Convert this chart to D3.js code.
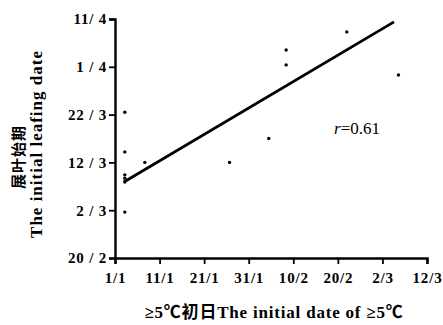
<!DOCTYPE html>
<html>
<head>
<meta charset="utf-8">
<script src="https://cdn.jsdelivr.net/npm/d3@7"></script>
<style>
  body { margin: 0; background: #fff; }
  text { fill: #000; }
</style>
</head>
<body>
<div id="chart"></div>
<script>
// day-of-year values (non leap year)
const xTickDays = [1, 11, 21, 31, 41, 51, 61, 71];
const xTickLabels = ["1/1", "11/1", "21/1", "31/1", "10/2", "20/2", "2/3", "12/3"];
const yTickDays = [51, 61, 71, 81, 91, 101];
const yTickLabels = ["20 / 2", "2 / 3", "12 / 3", "22 / 3", "1 / 4", "11/ 4"];

// >=5C initial date vs initial leafing date
const startDay = [53.0, 39.4, 39.4, 64.6, 35.5, 26.7, 3.2, 3.2, 7.7, 3.2, 3.2, 3.2, 3.2];
const leafDay  = [98.3, 94.5, 91.4, 89.3, 76.0, 71.0, 81.5, 73.2, 71.0, 68.4, 67.7, 66.9, 60.6];

// fitted line ends
const fitX = [3.0, 63.6];
const fitY = [66.9, 100.4];

const W = 443, H = 325;
const svg = d3.select("#chart").append("svg")
    .attr("width", W)
    .attr("height", H);

const x = d3.scaleLinear().domain([1, 71]).range([115, 427]);
const y = d3.scaleLinear().domain([51, 101]).range([258, 19]);

const tickFont = "'Liberation Serif', 'Times New Roman', serif";

// X axis
const xAxis = svg.append("g")
    .attr("transform", `translate(0, ${y(51)})`)
    .call(d3.axisBottom(x)
      .tickValues(xTickDays)
      .tickFormat((d, i) => xTickLabels[i])
      .tickSizeOuter(0)
      .tickSize(6)
      .tickPadding(8));

// Y axis
const yAxis = svg.append("g")
    .attr("transform", `translate(${x(1)}, 0)`)
    .call(d3.axisLeft(y)
      .tickValues(yTickDays)
      .tickFormat((d, i) => yTickLabels[i])
      .tickSizeOuter(0)
      .tickSize(6)
      .tickPadding(2));

[xAxis, yAxis].forEach(g => {
  g.select(".domain").attr("stroke", "#000").attr("stroke-width", 2.4);
  g.selectAll(".tick line").attr("stroke", "#000").attr("stroke-width", 1.8);
  g.selectAll(".tick text")
    .attr("fill", "#000")
    .style("font-family", tickFont)
    .style("font-weight", "bold")
    .style("font-size", "15px")
    .style("letter-spacing", "0.8px");
});

// dots
const pts = startDay.map((d, i) => ({ x: d, y: leafDay[i] }));
svg.append("g")
  .selectAll("circle")
  .data(pts)
  .join("circle")
    .attr("cx", d => x(d.x))
    .attr("cy", d => y(d.y))
    .attr("r", 1.7)
    .attr("fill", "#000");

// regression line
const line = d3.line().x(d => x(d[0])).y(d => y(d[1]));
svg.append("path")
  .datum(fitX.map((d, i) => [d, fitY[i]]))
  .attr("d", line)
  .attr("fill", "none")
  .attr("stroke", "#000")
  .attr("stroke-width", 2.8);

// r label
const rLabel = svg.append("text")
  .attr("x", 334)
  .attr("y", 134)
  .style("font-family", tickFont)
  .style("font-size", "17px");
rLabel.append("tspan").style("font-style", "italic").text("r");
rLabel.append("tspan").text("=0.61");

// y axis title
svg.append("text")
  .attr("transform", "translate(24, 157) rotate(-90)")
  .style("text-anchor", "middle")
  .style("font-family", "'Noto Sans CJK SC', sans-serif")
  .style("font-weight", "bold")
  .style("font-size", "15px")
  .style("letter-spacing", "1px")
  .text("展叶始期");

svg.append("text")
  .attr("transform", "translate(42, 144) rotate(-90)")
  .style("text-anchor", "middle")
  .style("font-family", tickFont)
  .style("font-weight", "bold")
  .style("font-size", "17px")
  .style("letter-spacing", "1px")
  .text("The initial leafing date");

// x axis title
svg.append("text")
  .attr("x", 274)
  .attr("y", 318)
  .style("text-anchor", "middle")
  .style("font-family", tickFont + ", 'Noto Sans CJK SC'")
  .style("font-weight", "bold")
  .style("font-size", "17px")
  .style("letter-spacing", "0.8px")
  .text("≥5℃初日The initial date of ≥5℃");
</script>
</body>
</html>
